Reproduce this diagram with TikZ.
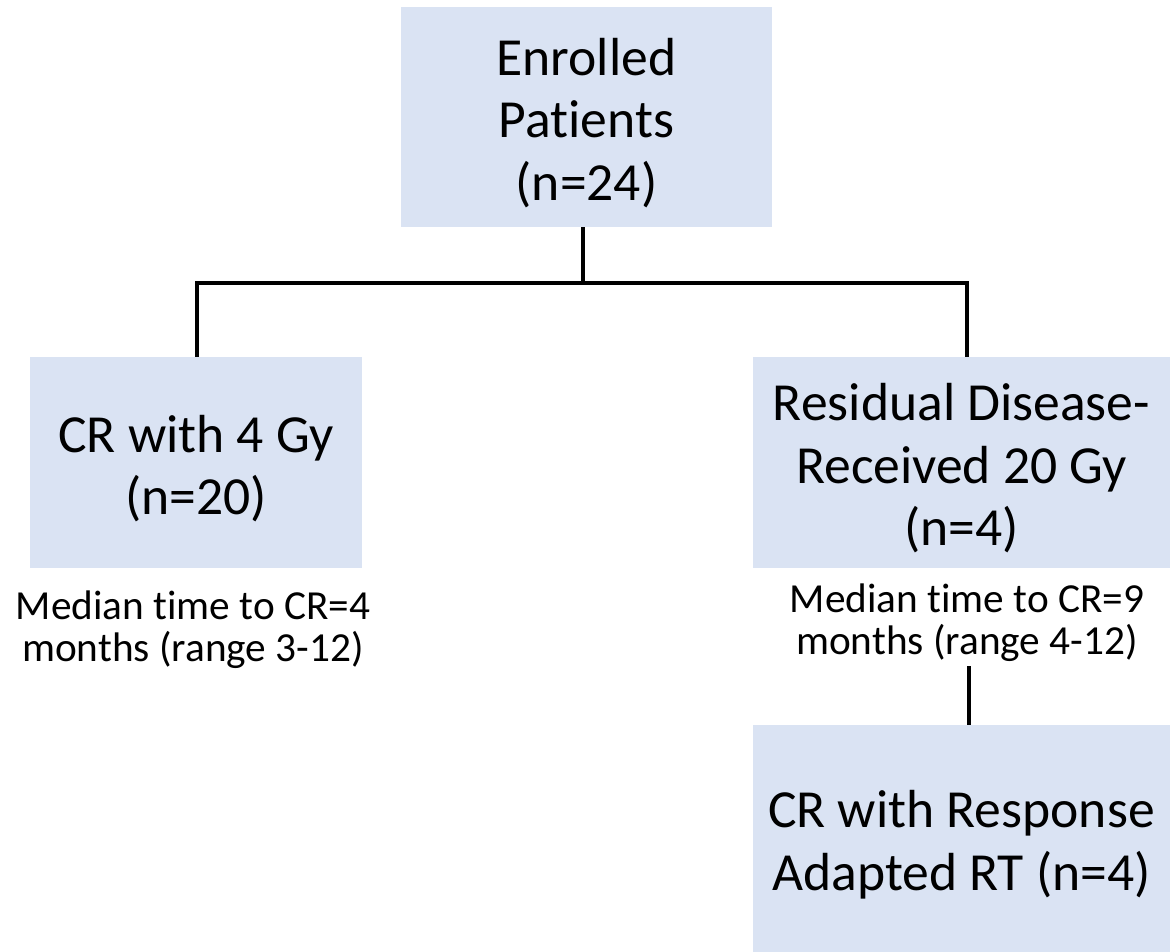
\documentclass[tikz,border=0pt]{standalone}
\usepackage{fontspec}
\setmainfont{Carlito}[Ligatures=CommonOff]
\definecolor{boxblue}{HTML}{DAE3F3}
\newcommand{\boxstrut}{\rule{0pt}{0.92em}}

\begin{document}
\begin{tikzpicture}[x=0.02cm,y=-0.02cm,
    box/.style={fill=boxblue,inner sep=0pt,align=center,
                font=\fontsize{30.5}{35.6}\selectfont},
    note/.style={inner sep=0pt,align=center,
                 font=\fontsize{23.5}{23.8}\selectfont},
    link/.style={line width=2.2pt}]
            \useasboundingbox (0,0) rectangle (1170,952);
            % boxes
            \node [box,minimum width=7.42cm,minimum height=4.4cm] (enrolled) at (586.5,117) {\boxstrut Enrolled\\Patients\\(n=24)};
            \node [box,minimum width=6.64cm,minimum height=4.22cm] (cr4) at (196,462.5) {\boxstrut CR with 4 Gy\\(n=20)};
            \node [box,minimum width=8.34cm,minimum height=4.22cm] (resid) at (961.5,462.5) {\boxstrut Residual Disease-\\Received 20 Gy\\(n=4)};
            \node [box,minimum width=8.34cm,minimum height=4.54cm] (adapted) at (961.5,838.5) {\boxstrut CR with Response\\Adapted RT (n=4)};
            % notes under the boxes
            \node [note] (note4) at (193,630) {Median time to CR=4\\months (range 3-12)};
            \node [note] (note9) at (967,623) {Median time to CR=9\\months (range 4-12)};
            % connectors
            \coordinate (split) at (583,283);
            \coordinate (lefttop) at (197,357);
            \coordinate (righttop) at (967,357);
            \coordinate (noteend) at (969,666);
            \draw [link] (enrolled.south -| split) -- (split);
            \draw [link] (lefttop) |- (split) -| (righttop);
            \draw [link] (noteend) -- (noteend |- adapted.north);
        \end{tikzpicture}
\end{document}
